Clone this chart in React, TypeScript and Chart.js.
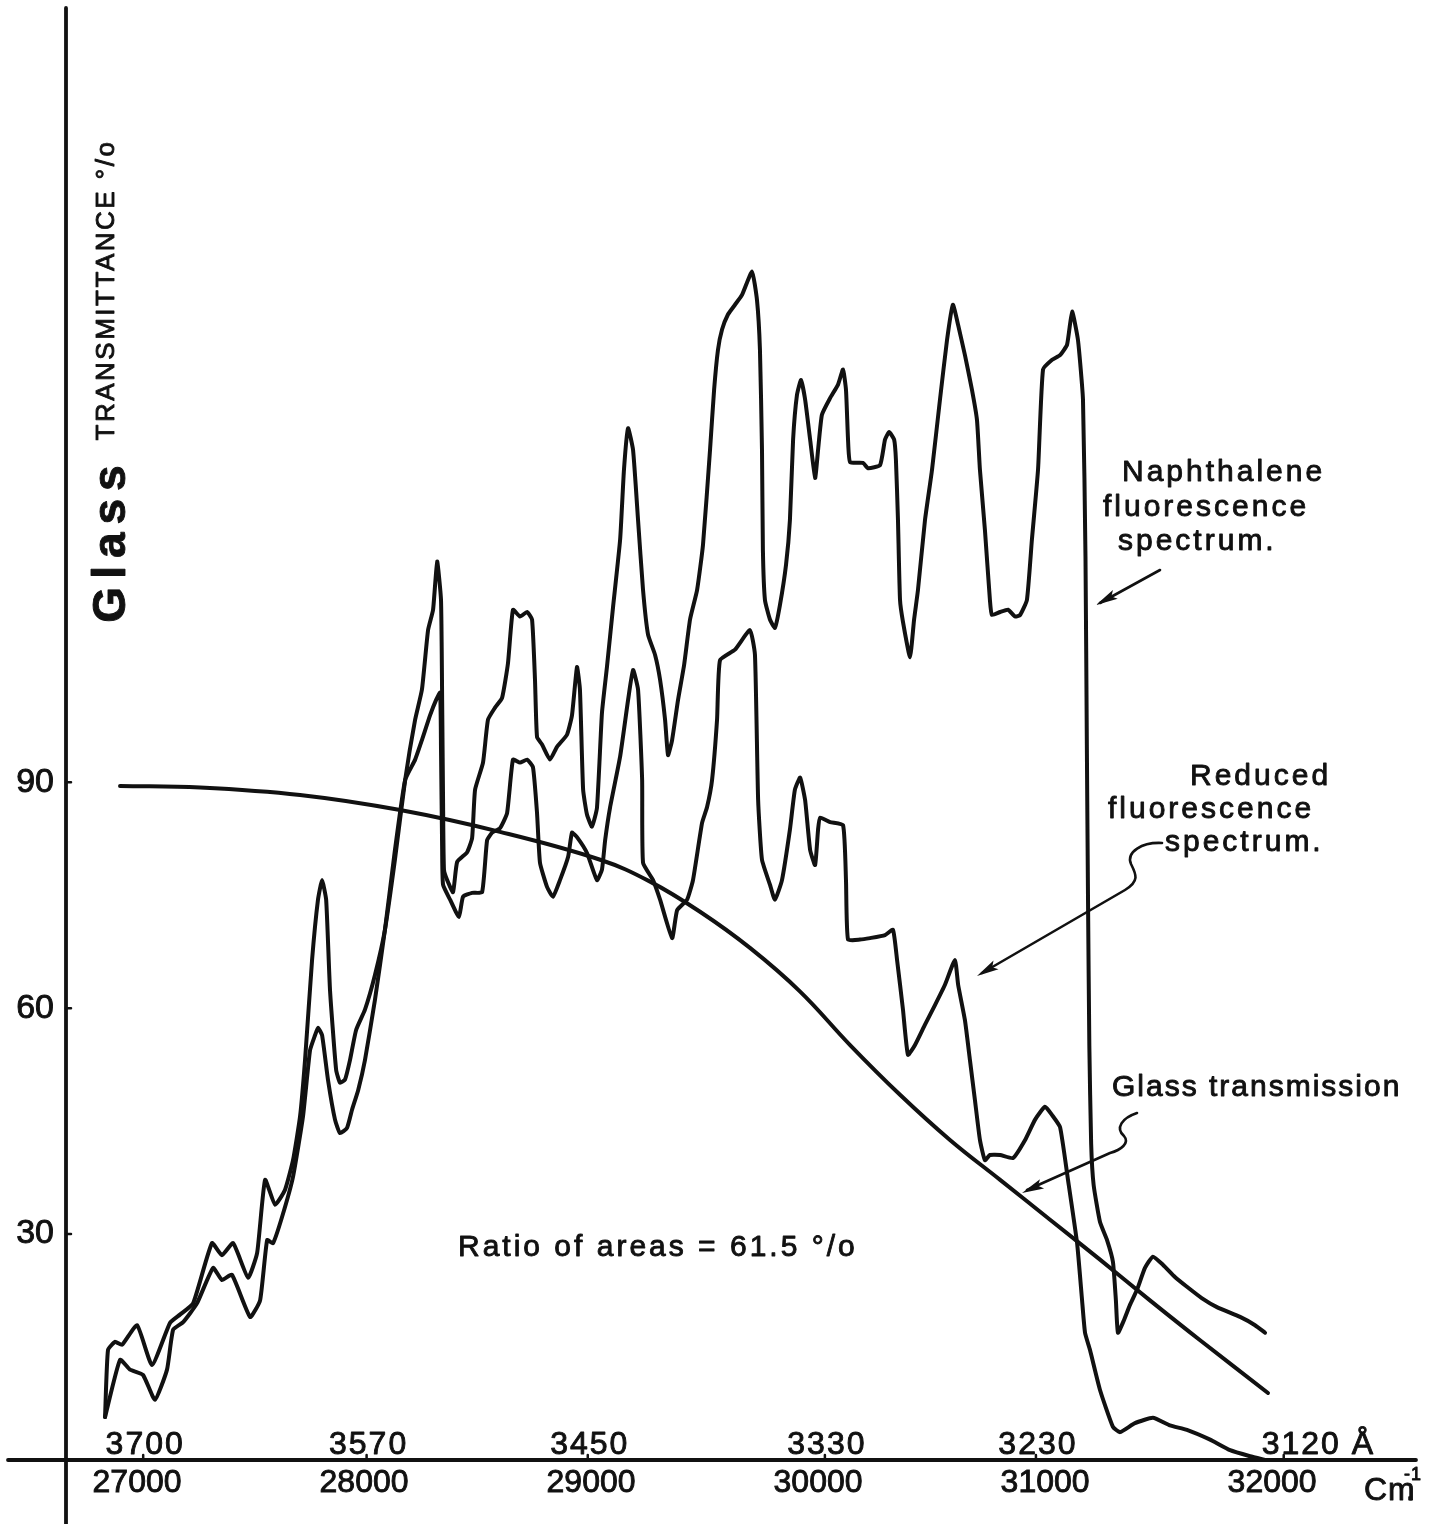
import React, { useEffect, useRef } from "react";
import { Chart, registerables } from "chart.js";

Chart.register(...registerables);

const INK = "#111111";
const FONT = "'Liberation Sans', 'DejaVu Sans', sans-serif";

// Lower axis: wavenumber (cm^-1)
const wavenumberTicks = [27000, 28000, 29000, 30000, 31000, 32000];
// Wavelengths (Å) printed just above the axis line
const wavelengthTicks = [3700, 3570, 3450, 3330, 3230, 3120];
// Glass transmittance (%)
const transmittanceTicks = [30, 60, 90];

// [wavenumber cm^-1, relative intensity]
const naphthaleneSpectrum: [number, number][] = [
  [26859, 5.7], [26872, 14.6], [26903, 15.7], [26934, 15.3], [27000, 17.9], [27066, 12.6],
  [27145, 18.2], [27189, 19.3], [27247, 20.8], [27330, 28.8], [27374, 27.2], [27423, 28.8],
  [27489, 24.2], [27529, 27.5], [27564, 37.2], [27608, 33.9], [27652, 35.9], [27687, 39.8],
  [27718, 45.6], [27740, 53.1], [27771, 66.4], [27797, 74.4], [27815, 77.0], [27833, 74.4],
  [27850, 62.4], [27877, 51.8], [27894, 50.1], [27916, 50.5], [27938, 53.1], [27965, 57.1],
  [28004, 59.8], [28048, 64.4], [28092, 70.4], [28136, 79.7], [28181, 90.3], [28225, 98.3],
  [28255, 102.3], [28282, 110.2], [28304, 112.9], [28322, 119.3], [28339, 114.2], [28344, 100.9],
  [28348, 87.6], [28352, 78.4], [28366, 77.0], [28392, 75.4], [28410, 79.4], [28454, 80.7],
  [28476, 82.6], [28489, 89.0], [28524, 92.6], [28546, 98.3], [28577, 99.9], [28608, 101.2],
  [28634, 105.8], [28656, 112.9], [28687, 112.0], [28718, 112.6], [28740, 111.6], [28753, 103.6],
  [28762, 96.0], [28784, 95.0], [28819, 93.0], [28850, 94.7], [28894, 96.3], [28916, 98.9],
  [28938, 105.3], [28951, 102.3], [28965, 89.0], [28982, 85.7], [29004, 84.1], [29026, 86.6],
  [29048, 99.2], [29070, 105.3], [29097, 113.3], [29128, 122.2], [29145, 131.5], [29163, 137.0],
  [29185, 134.1], [29207, 124.8], [29229, 115.5], [29251, 109.6], [29282, 106.9], [29304, 103.6],
  [29326, 98.3], [29339, 93.6], [29357, 95.6], [29383, 100.9], [29410, 105.6], [29436, 111.6],
  [29467, 115.5], [29493, 121.5], [29524, 134.1], [29542, 142.1], [29559, 147.4], [29577, 150.1],
  [29603, 152.1], [29634, 153.4], [29665, 154.7], [29709, 157.8], [29731, 154.0], [29744, 147.4],
  [29753, 134.1], [29757, 120.8], [29766, 114.2], [29788, 111.6], [29810, 110.5], [29832, 113.5],
  [29859, 118.9], [29876, 124.8], [29890, 135.5], [29907, 141.4], [29925, 143.4], [29943, 140.8],
  [29965, 135.5], [29987, 130.4], [30000, 134.1], [30017, 138.8], [30053, 141.0], [30088, 142.8],
  [30110, 144.8], [30123, 142.1], [30132, 135.5], [30141, 132.5], [30198, 132.4], [30220, 131.7],
  [30273, 132.1], [30295, 135.5], [30313, 136.5], [30335, 135.5], [30343, 132.8], [30352, 124.8],
  [30361, 114.2], [30374, 111.3], [30405, 106.6], [30423, 111.6], [30440, 115.5], [30471, 124.8],
  [30502, 131.5], [30537, 140.8], [30568, 148.7], [30594, 153.4], [30617, 150.7], [30647, 146.7],
  [30678, 142.1], [30700, 138.1], [30713, 131.5], [30735, 123.5], [30757, 114.2], [30766, 112.2],
  [30802, 112.6], [30837, 112.9], [30868, 112.0], [30890, 112.2], [30920, 114.2], [30942, 122.2],
  [30969, 131.5], [30991, 144.8], [31031, 146.1], [31066, 146.7], [31097, 148.1], [31119, 152.5],
  [31145, 148.7], [31167, 140.8], [31178, 120.0], [31184, 95.0], [31189, 75.0],
  [31195, 55.0], [31203, 42.0], [31214, 36.5], [31242, 31.6], [31273, 29.2], [31299, 26.3],
  [31312, 21.2], [31321, 16.9], [31348, 18.6], [31374, 20.6], [31405, 22.6], [31440, 25.5],
  [31475, 27.0], [31520, 25.9], [31572, 24.3], [31625, 23.0], [31690, 21.5], [31757, 20.3],
  [31859, 19.0], [31925, 17.9], [31969, 16.9],
];

// Spectrum after passing through the glass: [wavenumber cm^-1, relative intensity]
const reducedSpectrum: [number, number][] = [
  [26859, 5.7], [26925, 13.3], [26969, 12.0], [27026, 11.3], [27079, 8.0], [27132, 12.0],
  [27159, 17.3], [27203, 18.3], [27264, 20.8], [27335, 25.5], [27374, 23.9], [27418, 24.6],
  [27498, 19.0], [27542, 21.2], [27573, 29.2], [27599, 28.8], [27639, 32.3], [27687, 37.6],
  [27731, 45.6], [27762, 54.4], [27784, 56.4], [27797, 57.4], [27815, 56.4], [27841, 50.5],
  [27872, 45.2], [27894, 43.4], [27925, 44.1], [27947, 46.5], [27974, 49.1], [28004, 53.1],
  [28048, 61.1], [28092, 70.4], [28136, 81.0], [28181, 90.3], [28225, 93.0], [28255, 95.6],
  [28291, 98.9], [28317, 100.9], [28335, 101.9], [28339, 94.3], [28344, 81.0], [28348, 76.4],
  [28379, 74.4], [28418, 72.1], [28436, 74.8], [28476, 75.3], [28520, 75.4], [28542, 82.3],
  [28564, 83.3], [28599, 83.9], [28630, 85.9], [28656, 93.0], [28687, 92.6], [28718, 93.0],
  [28744, 92.0], [28762, 85.9], [28775, 79.3], [28806, 76.1], [28832, 74.8], [28863, 77.0],
  [28899, 80.1], [28916, 83.3], [28938, 82.7], [28982, 80.6], [29026, 77.0], [29048, 78.4],
  [29062, 82.3], [29084, 86.7], [29128, 93.4], [29163, 100.9], [29185, 104.9], [29207, 102.3],
  [29225, 90.3], [29229, 79.3], [29273, 77.0], [29304, 74.4], [29357, 69.3], [29379, 73.0],
  [29423, 74.4], [29449, 77.0], [29489, 84.6], [29511, 86.7], [29533, 90.3], [29555, 98.3],
  [29568, 106.2], [29634, 107.6], [29700, 110.2], [29722, 106.9], [29736, 87.6], [29753, 79.7],
  [29788, 76.4], [29810, 74.4], [29841, 77.0], [29876, 83.7], [29898, 89.0], [29921, 90.6],
  [29943, 87.6], [29965, 81.0], [29987, 79.0], [30000, 83.7], [30009, 85.3], [30053, 84.7],
  [30110, 84.3], [30123, 77.0], [30132, 69.1], [30185, 69.1], [30229, 69.3], [30295, 69.7],
  [30330, 70.4], [30348, 66.4], [30374, 59.8], [30396, 53.8], [30427, 55.1], [30471, 57.8],
  [30515, 60.4], [30559, 63.1], [30603, 66.4], [30617, 63.1], [30647, 58.4], [30669, 53.1],
  [30691, 47.8], [30713, 42.5], [30735, 39.8], [30757, 40.5], [30802, 40.5], [30859, 40.1],
  [30912, 42.5], [30956, 45.2], [31000, 46.9], [31031, 45.8], [31066, 44.2], [31101, 37.2],
  [31141, 28.8], [31163, 21.2], [31176, 16.9], [31198, 14.6], [31242, 9.3], [31299, 4.4],
  [31330, 3.7], [31396, 4.9], [31475, 5.6], [31550, 4.6], [31625, 4.0], [31727, 2.7],
  [31815, 1.3], [31903, 0.5], [31969, 0],
];

// Glass transmission curve: [wavenumber cm^-1, transmittance %]
const glassTransmission: [number, number][] = [
  [26925, 89.5], [27278, 89.3], [27718, 88.3], [28159, 86.3], [28599, 83.4], [29040, 79.7],
  [29260, 76.8], [29480, 72.8], [29700, 68.0], [29921, 62.2], [30141, 55.1], [30361, 48.5],
  [30581, 42.5], [30802, 37.2], [31022, 31.9], [31242, 26.6], [31462, 21.2], [31683, 15.9],
  [31982, 8.9],
];

const toPoints = (rows: [number, number][]) => rows.map(([x, y]) => ({ x, y }));

function arrowHead(ctx: CanvasRenderingContext2D, fromX: number, fromY: number, toX: number, toY: number) {
  const ang = Math.atan2(toY - fromY, toX - fromX);
  const len = 22;
  const half = 5;
  ctx.save();
  ctx.translate(toX, toY);
  ctx.rotate(ang);
  ctx.beginPath();
  ctx.moveTo(0, 0);
  ctx.lineTo(-len, -half);
  ctx.lineTo(-len * 0.8, 0);
  ctx.lineTo(-len, half);
  ctx.closePath();
  ctx.fill();
  ctx.restore();
}

// filled text with a thin outline, for the heavier pen lettering
function letter(ctx: CanvasRenderingContext2D, s: string, x: number, y: number) {
  ctx.fillText(s, x, y);
  ctx.strokeText(s, x, y);
}

const annotate = {
  id: "annotate",
  afterDatasetsDraw(chart: Chart) {
    const { ctx, chartArea: a } = chart;
    const xs = chart.scales.x;
    const ys = chart.scales.y;
    ctx.save();
    ctx.strokeStyle = INK;
    ctx.fillStyle = INK;
    ctx.lineCap = "round";
    ctx.lineJoin = "round";

    // axis lines, crossing and running past the origin
    ctx.lineWidth = 3.8;
    ctx.beginPath();
    ctx.moveTo(a.left, a.top);
    ctx.lineTo(a.left, chart.height);
    ctx.moveTo(8, a.bottom);
    ctx.lineTo(a.right, a.bottom);
    ctx.stroke();

    // short tick marks
    ctx.lineWidth = 2.5;
    ctx.beginPath();
    transmittanceTicks.forEach((v) => {
      const py = ys.getPixelForValue(v);
      ctx.moveTo(a.left, py);
      ctx.lineTo(a.left + 5, py);
    });
    wavelengthTicks.forEach((l) => {
      const px = xs.getPixelForValue(1e8 / l);
      ctx.moveTo(px, a.bottom);
      ctx.lineTo(px, a.bottom - 5);
    });
    ctx.stroke();

    ctx.lineWidth = 0.9;

    // wavelength scale above the axis
    ctx.font = `32px ${FONT}`;
    (ctx as any).letterSpacing = "2px";
    ctx.textBaseline = "alphabetic";
    wavelengthTicks.forEach((l, i) => {
      const px = xs.getPixelForValue(1e8 / l);
      if (i < wavelengthTicks.length - 1) {
        ctx.textAlign = "center";
        letter(ctx, String(l), px + 2, a.bottom - 6);
      } else {
        ctx.textAlign = "left";
        letter(ctx, `${l} Å`, px - 22, a.bottom - 6);
      }
    });

    // wavenumber unit
    (ctx as any).letterSpacing = "1px";
    ctx.textAlign = "left";
    ctx.font = `32px ${FONT}`;
    letter(ctx, "Cm", 1364, 1500);
    ctx.font = `30px ${FONT}`;
    letter(ctx, ".", 1406, 1500);
    ctx.font = `18px ${FONT}`;
    letter(ctx, "-1", 1404, 1480);

    // vertical axis title
    ctx.save();
    ctx.translate(114, 290);
    ctx.rotate(-Math.PI / 2);
    ctx.textAlign = "center";
    ctx.font = `26px ${FONT}`;
    (ctx as any).letterSpacing = "2.5px";
    letter(ctx, "TRANSMITTANCE °/o", 0, 0);
    ctx.restore();
    ctx.save();
    ctx.translate(125, 540);
    ctx.rotate(-Math.PI / 2);
    ctx.textAlign = "center";
    ctx.font = `bold 46px ${FONT}`;
    (ctx as any).letterSpacing = "8px";
    letter(ctx, "Glass", 0, 0);
    ctx.restore();

    // curve labels
    ctx.textAlign = "left";
    ctx.textBaseline = "middle";
    ctx.font = `30px ${FONT}`;
    (ctx as any).letterSpacing = "3px";
    letter(ctx, "Naphthalene", 1122, 473);
    letter(ctx, "fluorescence", 1103, 508);
    letter(ctx, "spectrum.", 1118, 542);
    letter(ctx, "Reduced", 1190, 777);
    letter(ctx, "fluorescence", 1108, 810);
    letter(ctx, "spectrum.", 1165, 843);
    (ctx as any).letterSpacing = "2px";
    letter(ctx, "Glass transmission", 1112, 1088);
    (ctx as any).letterSpacing = "3px";
    letter(ctx, "Ratio of areas = 61.5 °/o", 458, 1248);
    (ctx as any).letterSpacing = "0px";

    // pointer arrows
    ctx.lineWidth = 2.6;
    ctx.beginPath();
    ctx.moveTo(1160, 570);
    ctx.lineTo(1100, 603);
    ctx.stroke();
    arrowHead(ctx, 1160, 570, 1096, 605);

    ctx.beginPath();
    ctx.moveTo(1162, 843);
    ctx.bezierCurveTo(1142, 842, 1126, 852, 1131, 864);
    ctx.bezierCurveTo(1136, 874, 1140, 881, 1125, 890);
    ctx.lineTo(982, 973);
    ctx.stroke();
    arrowHead(ctx, 1125, 890, 977, 976);

    ctx.beginPath();
    ctx.moveTo(1137, 1113);
    ctx.bezierCurveTo(1122, 1118, 1115, 1128, 1124, 1136);
    ctx.bezierCurveTo(1130, 1143, 1121, 1150, 1110, 1153);
    ctx.lineTo(1027, 1190);
    ctx.stroke();
    arrowHead(ctx, 1110, 1153, 1022, 1193);

    ctx.restore();
  },
};

const lineStyle = {
  borderColor: INK,
  borderWidth: 4,
  pointRadius: 0,
  fill: false,
  borderJoinStyle: "round" as const,
  borderCapStyle: "round" as const,
};

export default function App() {
  const canvasRef = useRef<HTMLCanvasElement>(null);

  useEffect(() => {
    const canvas = canvasRef.current;
    if (!canvas) return;
    const chart = new Chart(canvas, {
      type: "line",
      data: {
        datasets: [
          { label: "Naphthalene fluorescence spectrum", data: toPoints(naphthaleneSpectrum), tension: 0.15, ...lineStyle },
          { label: "Reduced fluorescence spectrum", data: toPoints(reducedSpectrum), tension: 0.15, ...lineStyle },
          { label: "Glass transmission", data: toPoints(glassTransmission), tension: 0.4, ...lineStyle },
        ],
      },
      options: {
        responsive: false,
        animation: false,
        devicePixelRatio: 1,
        layout: { padding: { top: 8, right: 24, left: 0, bottom: 0 } },
        plugins: { legend: { display: false }, tooltip: { enabled: false } },
        elements: { point: { radius: 0 } },
        scales: {
          x: {
            type: "linear",
            min: 26687,
            max: 32634,
            grid: { display: false, drawTicks: false },
            border: { display: false },
            afterBuildTicks: (s: any) => {
              s.ticks = wavenumberTicks.map((v) => ({ value: v }));
            },
            afterFit: (s: any) => {
              s.height = 64;
              s.paddingLeft = 0;
              s.paddingRight = 0;
            },
            ticks: {
              autoSkip: false,
              maxRotation: 0,
              padding: 4,
              color: INK,
              textStrokeColor: INK,
              textStrokeWidth: 0.9,
              font: { family: FONT, size: 32 },
              callback: (v: any) => String(v),
            },
          },
          y: {
            type: "linear",
            min: 0,
            max: 192.8,
            grid: { display: false, drawTicks: false },
            border: { display: false },
            afterBuildTicks: (s: any) => {
              s.ticks = transmittanceTicks.map((v) => ({ value: v }));
            },
            afterFit: (s: any) => {
              s.width = 66;
              s.paddingTop = 0;
              s.paddingBottom = 0;
            },
            ticks: {
              padding: 12,
              color: INK,
              textStrokeColor: INK,
              textStrokeWidth: 0.9,
              font: { family: FONT, size: 34 },
              callback: (v: any) => String(v),
            },
          },
        },
      },
      plugins: [annotate],
    });
    return () => chart.destroy();
  }, []);

  return (
    <div style={{ position: "absolute", left: 0, top: 0, width: 1440, height: 1524, background: "#fff" }}>
      <canvas ref={canvasRef} width={1440} height={1524} style={{ display: "block", width: 1440, height: 1524 }} />
    </div>
  );
}
